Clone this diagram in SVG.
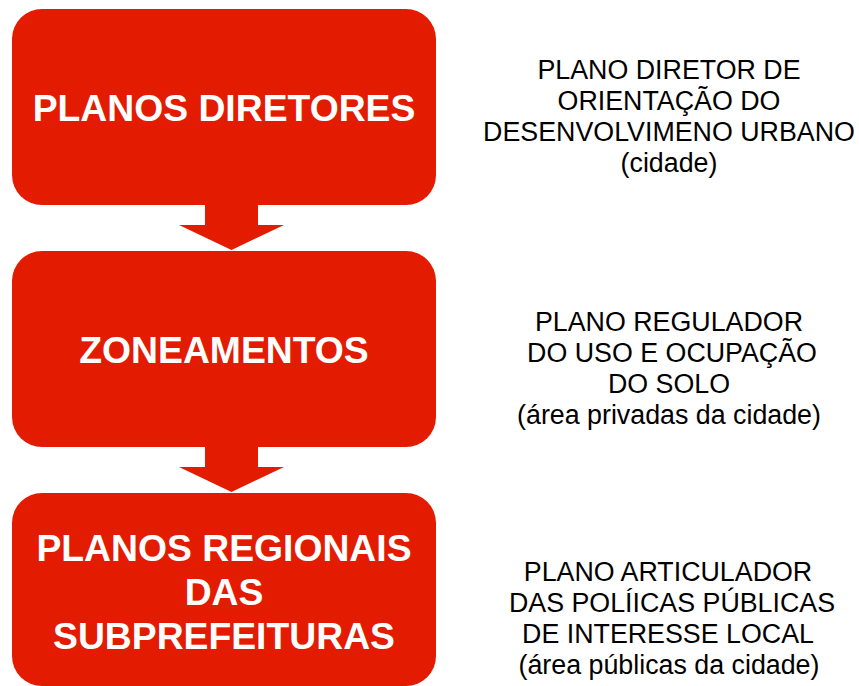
<svg xmlns="http://www.w3.org/2000/svg" width="859" height="686" viewBox="0 0 859 686">
<style>
.box{fill:#E31B00}
.arrow{fill:#E31B00}
.bt{font-family:"Liberation Sans",Arial,sans-serif;font-weight:bold;font-size:37.3px;fill:#FFFFFF;text-anchor:middle}
.rt{font-family:"Liberation Sans",Arial,sans-serif;font-size:26.8px;fill:#000000;text-anchor:middle}
</style>
<rect width="859" height="686" fill="#FFFFFF"/>
<g id="connectors">
<polygon class="arrow" points="205,204 258,204 258,225 284,225 231.5,250 179,225 205,225"/>
<polygon class="arrow" points="205,446 258,446 258,467 284,467 231.5,492 179,467 205,467"/>
</g>
<g id="node-planos-diretores">
<rect class="box" x="12" y="9" width="424" height="196" rx="30" ry="30"/>
<text class="bt" x="224" y="121">PLANOS DIRETORES</text>
</g>
<g id="node-zoneamentos">
<rect class="box" x="12" y="251" width="424" height="196" rx="30" ry="30"/>
<text class="bt" x="224" y="363">ZONEAMENTOS</text>
</g>
<g id="node-planos-regionais">
<rect class="box" x="12" y="493" width="424" height="193" rx="30" ry="30"/>
<text class="bt" x="224" y="561">PLANOS REGIONAIS</text>
<text class="bt" x="224" y="605">DAS</text>
<text class="bt" x="224" y="649">SUBPREFEITURAS</text>
</g>
<g id="note-1">
<text class="rt" x="669" y="79">PLANO DIRETOR DE</text>
<text class="rt" x="669" y="110">ORIENTAÇÃO DO</text>
<text class="rt" x="669" y="141">DESENVOLVIMENO URBANO</text>
<text class="rt" x="669" y="172">(cidade)</text>
</g>
<g id="note-2">
<text class="rt" x="669" y="331">PLANO REGULADOR</text>
<text class="rt" x="672" y="362">DO USO E OCUPAÇÃO</text>
<text class="rt" x="669" y="393">DO SOLO</text>
<text class="rt" x="669" y="424">(área privadas da cidade)</text>
</g>
<g id="note-3">
<text class="rt" x="668" y="581">PLANO ARTICULADOR</text>
<text class="rt" x="672" y="612">DAS POLÍICAS PÚBLICAS</text>
<text class="rt" x="668" y="643">DE INTERESSE LOCAL</text>
<text class="rt" x="669" y="674">(área públicas da cidade)</text>
</g>
</svg>
